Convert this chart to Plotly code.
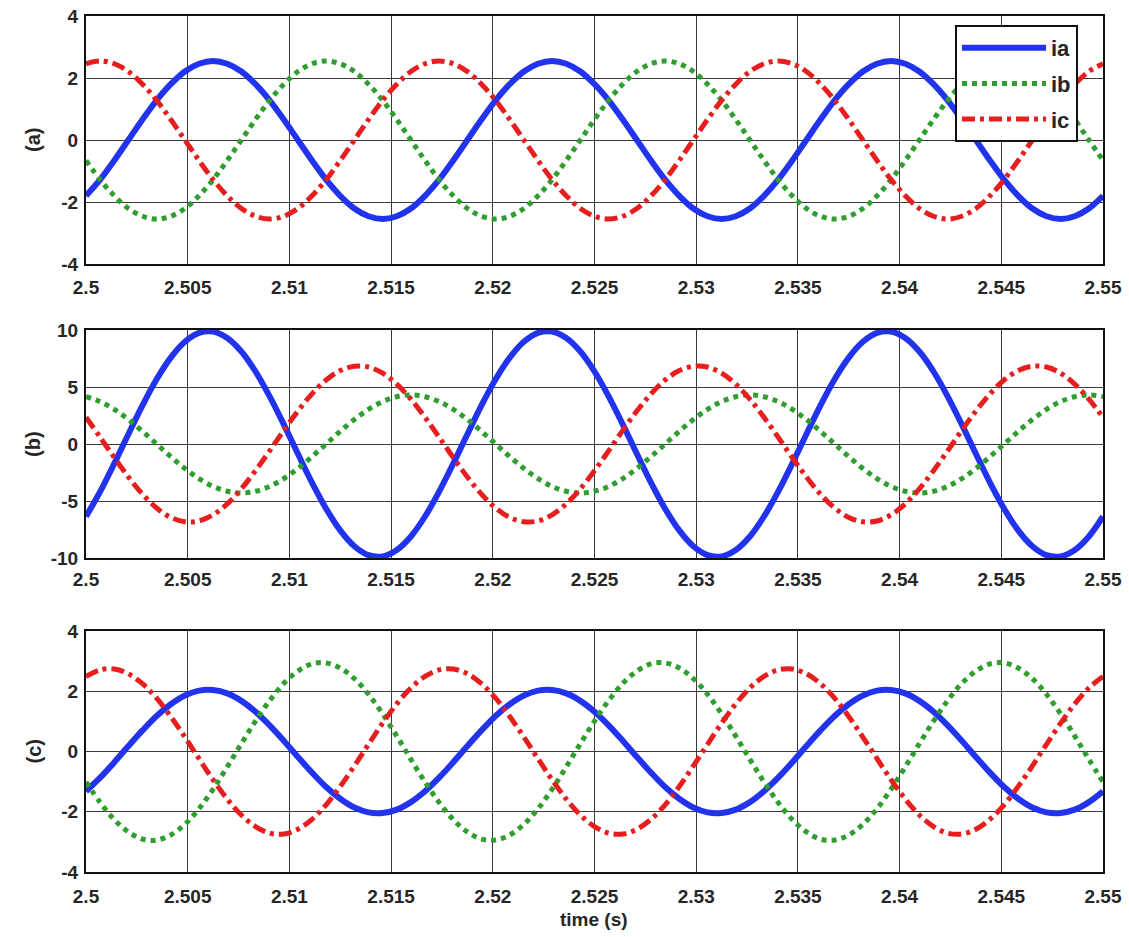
import plotly.graph_objects as go

# ---------------- data ----------------
time_s = [2.500000, 2.500694, 2.501389, 2.502083, 2.502778, 2.503472, 2.504167, 2.504861,
          2.505556, 2.506250, 2.506944, 2.507639, 2.508333, 2.509028, 2.509722, 2.510417,
          2.511111, 2.511806, 2.512500, 2.513194, 2.513889, 2.514583, 2.515278, 2.515972,
          2.516667, 2.517361, 2.518056, 2.518750, 2.519444, 2.520139, 2.520833, 2.521528,
          2.522222, 2.522917, 2.523611, 2.524306, 2.525000, 2.525694, 2.526389, 2.527083,
          2.527778, 2.528472, 2.529167, 2.529861, 2.530556, 2.531250, 2.531944, 2.532639,
          2.533333, 2.534028, 2.534722, 2.535417, 2.536111, 2.536806, 2.537500, 2.538194,
          2.538889, 2.539583, 2.540278, 2.540972, 2.541667, 2.542361, 2.543056, 2.543750,
          2.544444, 2.545139, 2.545833, 2.546528, 2.547222, 2.547917, 2.548611, 2.549306,
          2.550000]

# panel (a)
ia_a = [-1.80, -1.28, -0.66, 0.00, 0.66, 1.28, 1.80, 2.21, 2.46, 2.55, 2.46, 2.21,
        1.80, 1.28, 0.66, 0.00, -0.66, -1.28, -1.80, -2.21, -2.46, -2.55, -2.46, -2.21,
        -1.80, -1.28, -0.66, 0.00, 0.66, 1.28, 1.80, 2.21, 2.46, 2.55, 2.46, 2.21,
        1.80, 1.28, 0.66, 0.00, -0.66, -1.28, -1.80, -2.21, -2.46, -2.55, -2.46, -2.21,
        -1.80, -1.28, -0.66, 0.00, 0.66, 1.28, 1.80, 2.21, 2.46, 2.55, 2.46, 2.21,
        1.80, 1.28, 0.66, 0.00, -0.66, -1.28, -1.80, -2.21, -2.46, -2.55, -2.46, -2.21,
        -1.80]
ib_a = [-0.66, -1.28, -1.80, -2.21, -2.46, -2.55, -2.46, -2.21, -1.80, -1.28, -0.66, 0.00,
        0.66, 1.28, 1.80, 2.21, 2.46, 2.55, 2.46, 2.21, 1.80, 1.28, 0.66, 0.00,
        -0.66, -1.28, -1.80, -2.21, -2.46, -2.55, -2.46, -2.21, -1.80, -1.28, -0.66, 0.00,
        0.66, 1.28, 1.80, 2.21, 2.46, 2.55, 2.46, 2.21, 1.80, 1.28, 0.66, 0.00,
        -0.66, -1.28, -1.80, -2.21, -2.46, -2.55, -2.46, -2.21, -1.80, -1.28, -0.66, 0.00,
        0.66, 1.28, 1.80, 2.21, 2.46, 2.55, 2.46, 2.21, 1.80, 1.28, 0.66, 0.00,
        -0.66]
ic_a = [2.46, 2.55, 2.46, 2.21, 1.80, 1.28, 0.66, 0.00, -0.66, -1.28, -1.80, -2.21,
        -2.46, -2.55, -2.46, -2.21, -1.80, -1.28, -0.66, 0.00, 0.66, 1.28, 1.80, 2.21,
        2.46, 2.55, 2.46, 2.21, 1.80, 1.28, 0.66, 0.00, -0.66, -1.28, -1.80, -2.21,
        -2.46, -2.55, -2.46, -2.21, -1.80, -1.28, -0.66, 0.00, 0.66, 1.28, 1.80, 2.21,
        2.46, 2.55, 2.46, 2.21, 1.80, 1.28, 0.66, 0.00, -0.66, -1.28, -1.80, -2.21,
        -2.46, -2.55, -2.46, -2.21, -1.80, -1.28, -0.66, 0.00, 0.66, 1.28, 1.80, 2.21,
        2.46]

# panel (b)
ia_b = [-6.36, -4.18, -1.72, 0.86, 3.39, 5.68, 7.58, 8.97, 9.75, 9.86, 9.30, 8.11,
        6.36, 4.18, 1.72, -0.86, -3.39, -5.68, -7.58, -8.97, -9.75, -9.86, -9.30, -8.11,
        -6.36, -4.18, -1.72, 0.86, 3.39, 5.68, 7.58, 8.97, 9.75, 9.86, 9.30, 8.11,
        6.36, 4.18, 1.72, -0.86, -3.39, -5.68, -7.58, -8.97, -9.75, -9.86, -9.30, -8.11,
        -6.36, -4.18, -1.72, 0.86, 3.39, 5.68, 7.58, 8.97, 9.75, 9.86, 9.30, 8.11,
        6.36, 4.18, 1.72, -0.86, -3.39, -5.68, -7.58, -8.97, -9.75, -9.86, -9.30, -8.11,
        -6.36]
ib_b = [4.15, 3.72, 3.04, 2.15, 1.11, 0.00, -1.11, -2.15, -3.04, -3.72, -4.15, -4.30,
        -4.15, -3.72, -3.04, -2.15, -1.11, 0.00, 1.11, 2.15, 3.04, 3.72, 4.15, 4.30,
        4.15, 3.72, 3.04, 2.15, 1.11, 0.00, -1.11, -2.15, -3.04, -3.72, -4.15, -4.30,
        -4.15, -3.72, -3.04, -2.15, -1.11, 0.00, 1.11, 2.15, 3.04, 3.72, 4.15, 4.30,
        4.15, 3.72, 3.04, 2.15, 1.11, 0.00, -1.11, -2.15, -3.04, -3.72, -4.15, -4.30,
        -4.15, -3.72, -3.04, -2.15, -1.11, 0.00, 1.11, 2.15, 3.04, 3.72, 4.15, 4.30,
        4.15]
ic_b = [2.34, 0.60, -1.19, -2.89, -4.40, -5.61, -6.44, -6.82, -6.75, -6.21, -5.25, -3.93,
        -2.34, -0.60, 1.19, 2.89, 4.40, 5.61, 6.44, 6.82, 6.75, 6.21, 5.25, 3.93,
        2.34, 0.60, -1.19, -2.89, -4.40, -5.61, -6.44, -6.82, -6.75, -6.21, -5.25, -3.93,
        -2.34, -0.60, 1.19, 2.89, 4.40, 5.61, 6.44, 6.82, 6.75, 6.21, 5.25, 3.93,
        2.34, 0.60, -1.19, -2.89, -4.40, -5.61, -6.44, -6.82, -6.75, -6.21, -5.25, -3.93,
        -2.34, -0.60, 1.19, 2.89, 4.40, 5.61, 6.44, 6.82, 6.75, 6.21, 5.25, 3.93,
        2.34]

# panel (c)
ia_c = [-1.32, -0.87, -0.36, 0.18, 0.70, 1.18, 1.57, 1.86, 2.02, 2.04, 1.93, 1.68,
        1.32, 0.87, 0.36, -0.18, -0.70, -1.18, -1.57, -1.86, -2.02, -2.04, -1.93, -1.68,
        -1.32, -0.87, -0.36, 0.18, 0.70, 1.18, 1.57, 1.86, 2.02, 2.04, 1.93, 1.68,
        1.32, 0.87, 0.36, -0.18, -0.70, -1.18, -1.57, -1.86, -2.02, -2.04, -1.93, -1.68,
        -1.32, -0.87, -0.36, 0.18, 0.70, 1.18, 1.57, 1.86, 2.02, 2.04, 1.93, 1.68,
        1.32, 0.87, 0.36, -0.18, -0.70, -1.18, -1.57, -1.86, -2.02, -2.04, -1.93, -1.68,
        -1.32]
ib_c = [-1.01, -1.69, -2.26, -2.67, -2.91, -2.94, -2.77, -2.42, -1.90, -1.25, -0.51, 0.26,
        1.01, 1.69, 2.26, 2.67, 2.91, 2.94, 2.77, 2.42, 1.90, 1.25, 0.51, -0.26,
        -1.01, -1.69, -2.26, -2.67, -2.91, -2.94, -2.77, -2.42, -1.90, -1.25, -0.51, 0.26,
        1.01, 1.69, 2.26, 2.67, 2.91, 2.94, 2.77, 2.42, 1.90, 1.25, 0.51, -0.26,
        -1.01, -1.69, -2.26, -2.67, -2.91, -2.94, -2.77, -2.42, -1.90, -1.25, -0.51, 0.26,
        1.01, 1.69, 2.26, 2.67, 2.91, 2.94, 2.77, 2.42, 1.90, 1.25, 0.51, -0.26,
        -1.01]
ic_c = [2.49, 2.71, 2.74, 2.58, 2.25, 1.77, 1.16, 0.48, -0.24, -0.94, -1.58, -2.11,
        -2.49, -2.71, -2.74, -2.58, -2.25, -1.77, -1.16, -0.48, 0.24, 0.94, 1.58, 2.11,
        2.49, 2.71, 2.74, 2.58, 2.25, 1.77, 1.16, 0.48, -0.24, -0.94, -1.58, -2.11,
        -2.49, -2.71, -2.74, -2.58, -2.25, -1.77, -1.16, -0.48, 0.24, 0.94, 1.58, 2.11,
        2.49, 2.71, 2.74, 2.58, 2.25, 1.77, 1.16, 0.48, -0.24, -0.94, -1.58, -2.11,
        -2.49, -2.71, -2.74, -2.58, -2.25, -1.77, -1.16, -0.48, 0.24, 0.94, 1.58, 2.11,
        2.49]

series_names = ["ia", "ib", "ic"]
panel_labels = ["(a)", "(b)", "(c)"]

x_tickvals = [2.5, 2.505, 2.51, 2.515, 2.52, 2.525, 2.53, 2.535, 2.54, 2.545, 2.55]
x_ticktext = ["2.5", "2.505", "2.51", "2.515", "2.52", "2.525", "2.53", "2.535", "2.54", "2.545", "2.55"]
y_ticks_a = [-4, -2, 0, 2, 4]
y_ticks_b = [-10, -5, 0, 5, 10]
y_ticks_c = [-4, -2, 0, 2, 4]

# ---------------- styling ----------------
W, H = 1129, 937
FONT = "Liberation Sans, Arial, sans-serif"
TXT = "#262626"
colors = ["#2233ee", "#2f9e2f", "#e61e1e"]
dashes = ["solid", "dot", "13px,5px,4px,5px"]
widths = [6, 5, 5]

# plot areas in pixels (left, right, top, bottom)
px_left, px_right = 86, 1103
panels_px = [(16, 264), (330, 558), (631, 872)]
label_standoff = [5, 3, 6]

fig = go.Figure()
panel_data = [(ia_a, ib_a, ic_a), (ia_b, ib_b, ic_b), (ia_c, ib_c, ic_c)]
for p, data in enumerate(panel_data):
    suffix = "" if p == 0 else str(p + 1)
    for s, ys in enumerate(data):
        fig.add_trace(go.Scatter(
            x=time_s, y=ys, mode="lines", name=series_names[s],
            line=dict(color=colors[s], width=widths[s], dash=dashes[s], shape="spline"),
            xaxis="x" + suffix, yaxis="y" + suffix,
            showlegend=(p == 0), legendgroup=series_names[s],
        ))

y_ticks = [y_ticks_a, y_ticks_b, y_ticks_c]
y_ranges = [[-4, 4], [-10, 10], [-4, 4]]
layout_axes = {}
for p, (top, bot) in enumerate(panels_px):
    suffix = "" if p == 0 else str(p + 1)
    common = dict(
        showline=True, linecolor="#111111", linewidth=2, mirror=True,
        showgrid=True, gridcolor="#3a3a3a", gridwidth=1,
        zeroline=False, ticks="",
        tickfont=dict(family=FONT, size=19, color=TXT, weight="bold"),
        automargin=False,
    )
    layout_axes["xaxis" + suffix] = dict(
        common, domain=[px_left / W, px_right / W], range=[2.5, 2.55],
        tickmode="array", tickvals=x_tickvals, ticktext=x_ticktext,
        anchor="y" + suffix, ticklabelstandoff=label_standoff[p],
    )
    layout_axes["yaxis" + suffix] = dict(
        common, domain=[1 - bot / H, 1 - top / H], range=y_ranges[p],
        tickmode="array", tickvals=y_ticks[p], ticktext=[str(v) for v in y_ticks[p]],
        anchor="x" + suffix, ticklabelstandoff=2,
    )

annotations = []
for p, (top, bot) in enumerate(panels_px):
    annotations.append(dict(
        text=panel_labels[p], xref="paper", yref="paper",
        x=33 / W, y=1 - (top + bot) / 2 / H, showarrow=False, textangle=-90,
        font=dict(family=FONT, size=20, color=TXT, weight="bold"),
        xanchor="center", yanchor="middle",
    ))
annotations.append(dict(
    text="time (s)", xref="paper", yref="paper", x=594 / W, y=1 - 919 / H,
    showarrow=False, xanchor="center", yanchor="middle",
    font=dict(family=FONT, size=19, color=TXT, weight="bold"),
))

fig.update_layout(
    width=W, height=H, autosize=False,
    margin=dict(l=0, r=0, t=0, b=0, pad=0),
    paper_bgcolor="white", plot_bgcolor="white",
    annotations=annotations,
    legend=dict(
        x=955 / W, y=1 - 25 / H, xanchor="left", yanchor="top",
        bgcolor="white", bordercolor="#111111", borderwidth=2,
        font=dict(family=FONT, size=22, color=TXT, weight="bold"),
        itemwidth=84, traceorder="grouped", tracegroupgap=4,
    ),
    **layout_axes,
)

fig.write_html("out.html", config={"displayModeBar": False},
               post_script="document.body.style.margin='0';")
